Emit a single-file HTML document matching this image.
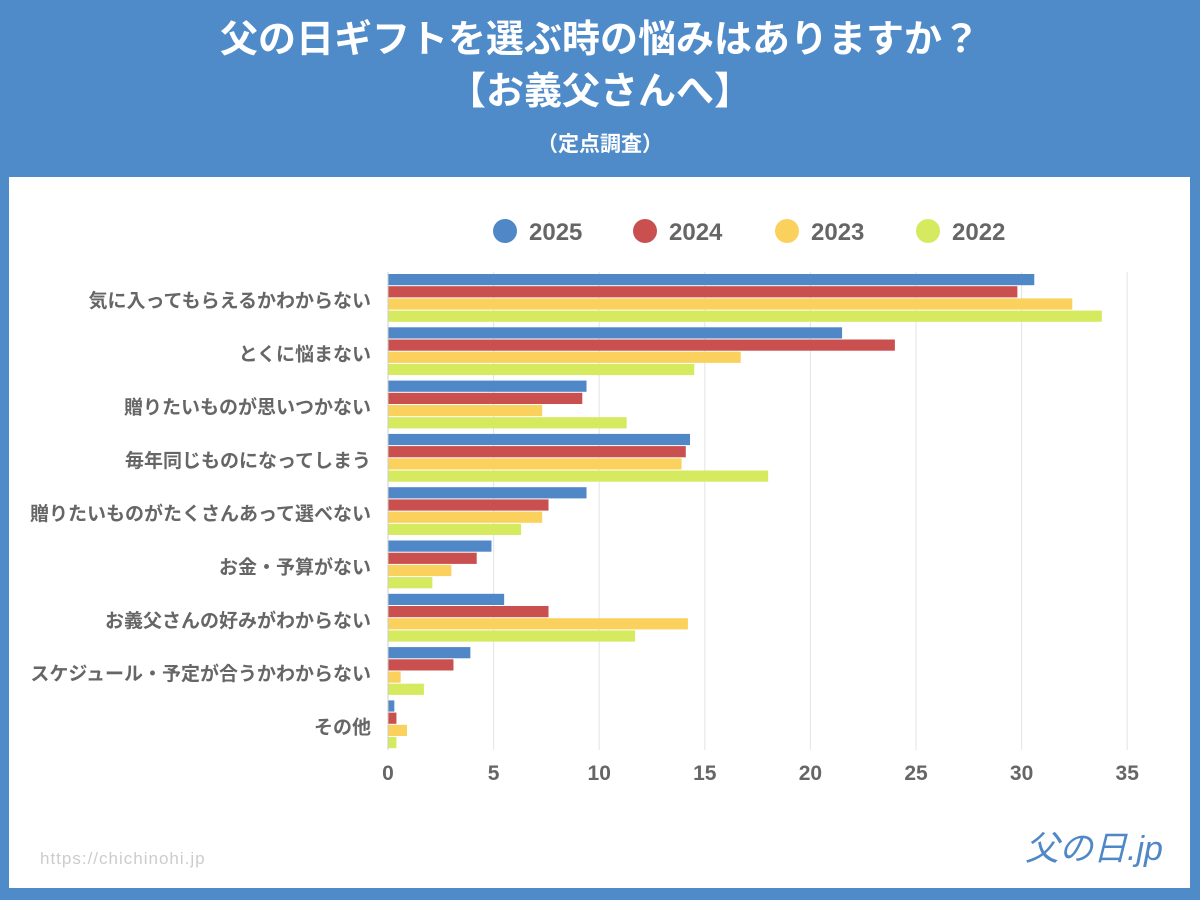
<!DOCTYPE html>
<html><head><meta charset="utf-8">
<style>
body{margin:0;width:1200px;height:900px;background:#508bc9;overflow:hidden;font-family:"Liberation Sans","Noto Sans CJK JP",sans-serif;}
#panel{position:absolute;left:9px;top:177px;width:1181px;height:711px;background:#fff;}
.t{position:absolute;left:0;width:1200px;text-align:center;color:#fff;font-weight:bold;}
</style></head><body>
<div class="t" style="top:14px;font-size:38px;line-height:52px;">父の日ギフトを選ぶ時の悩みはありますか？<br>【お義父さんへ】</div>
<div class="t" style="top:128px;font-size:21px;">（定点調査）</div>
<div id="panel"></div>
<svg id="chart" width="1200" height="900" style="position:absolute;left:0;top:0"></svg>
<script>
const categories=["気に入ってもらえるかわからない","とくに悩まない","贈りたいものが思いつかない","毎年同じものになってしまう","贈りたいものがたくさんあって選べない","お金・予算がない","お義父さんの好みがわからない","スケジュール・予定が合うかわからない","その他"];
const seriesNames=["2025","2024","2023","2022"];
const v2025=[30.6,21.5,9.4,14.3,9.4,4.9,5.5,3.9,0.3];
const v2024=[29.8,24.0,9.2,14.1,7.6,4.2,7.6,3.1,0.4];
const v2023=[32.4,16.7,7.3,13.9,7.3,3.0,14.2,0.6,0.9];
const v2022=[33.8,14.5,11.3,18.0,6.3,2.1,11.7,1.7,0.4];
const ticks=[0,5,10,15,20,25,30,35];
const colors=["#4f87c7","#c9504f","#fbd15d","#d5ea5f"];
const series=[v2025,v2024,v2023,v2022];
const svg=document.getElementById('chart');
const NS='http://www.w3.org/2000/svg';
const x0=388,pxPer=21.12,top0=274,catH=53.3,barH=12.2;
const xs=v=>x0+v*pxPer;
function mk(t,a){const e=document.createElementNS(NS,t);for(const k in a)e.setAttribute(k,a[k]);svg.appendChild(e);return e;}
ticks.forEach(t=>{
  const g=mk('line',{x1:xs(t),x2:xs(t),y1:272,y2:750,stroke:'#e3e3e3','stroke-width':1});
  
  
  const l=mk('text',{x:xs(t),y:780,'text-anchor':'middle','font-size':21,'font-weight':'bold',fill:'#666'});
  l.textContent=t;
  
  
});
categories.forEach((c,i)=>{
  const y=top0+i*catH;
  const l=mk('text',{x:371,y:y+33,'text-anchor':'end','font-size':19,'font-weight':'bold',fill:'#666'});
  l.textContent=c;
  
  
  series.forEach((s,j)=>{
    const r=mk('rect',{x:x0,y:y+j*barH,width:Math.max(0,xs(s[i])-x0),height:barH-1,fill:colors[j]});
    
    
  });
});
const ax=mk('line',{x1:x0,x2:x0,y1:272,y2:750,stroke:'#ccc'});


const lx=[505,645,787,928];
seriesNames.forEach((n,j)=>{
  const c=mk('circle',{cx:lx[j],cy:231,r:12,fill:colors[j]});
  
  
  const t=mk('text',{x:lx[j]+24,y:240,'font-size':24,'font-weight':'bold',fill:'#666'});
  t.textContent=n;
  
  
});
const u=mk('text',{x:40,y:864,'font-size':17,fill:'#ccc','letter-spacing':'1'});
u.textContent='https://chichinohi.jp';


const lg=mk('text',{x:1025,y:860,'font-size':34,fill:'#4f87c7','font-style':'italic'});
lg.textContent='父の日.jp';


</script>
</body></html>
